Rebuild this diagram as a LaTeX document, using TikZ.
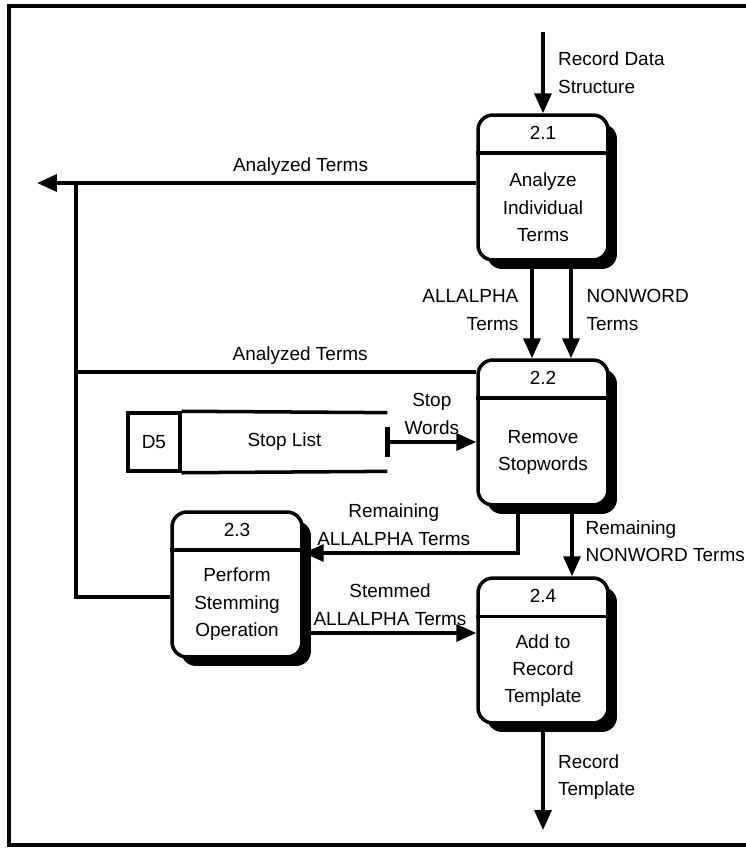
\documentclass[tikz,border=0pt]{standalone}
\usepackage{fontspec}
\setmainfont{Liberation Sans}
\usetikzlibrary{arrows.meta,shadows,positioning}

% process box: name, position, number, text
\newcommand{\procbox}[4]{%
  \node[proc] (#1) at (#2) {};
  \draw[line width=2pt] ([yshift=-0.8cm]#1.north west) -- ([yshift=-0.8cm]#1.north east);
  \node[txt] (#1-id) at ([yshift=-0.4cm]#1.north) {#3};
  \node[txt] (#1-tx) at ([yshift=-0.4cm]#1.center) {#4};
}

\begin{document}
\begin{tikzpicture}[
    x=0.02cm, y=-0.02cm,
    font=\fontsize{10.8}{15.6}\selectfont,
    proc/.style={draw, line width=2pt, rounded corners=0.3cm, fill=white,
                 minimum width=2.6cm, minimum height=2.9cm,
                 drop shadow={shadow xshift=0.18cm, shadow yshift=-0.18cm,
                              fill=black, opacity=1}},
    txt/.style={align=center, inner sep=0pt},
    lbl/.style={align=left},
    flow/.style={line width=2pt},
    arr/.style={-{Triangle[length=0.4cm,width=0.34cm]}, line width=2pt},
    storebox/.style={minimum width=4.1cm, minimum height=1.16cm, inner sep=0pt},
    idbox/.style={draw, line width=2pt, minimum width=1.04cm,
                  minimum height=1.16cm, inner sep=0pt}
]
\useasboundingbox (0,0) rectangle (746,848);

% frame
\draw[line width=2pt] (746,6) -- (9,6) -- (9,845) -- (746,845);

% processes
\procbox{p21}{543,187.5}{2.1}{Analyze\\Individual\\Terms}
\procbox{p22}{543,432.5}{2.2}{Remove\\Stopwords}
\procbox{p23}{237,584.5}{2.3}{Perform\\Stemming\\Operation}
\procbox{p24}{543,650.5}{2.4}{Add to\\Record\\Template}

% data store
\node[storebox] (sl) at (284.5,442) {Stop List};
\node[idbox, left=0pt of sl] (d5) {D5};
\draw[flow] (d5.north east) -- (sl.north east) (d5.south east) -- (sl.south east);
\draw[line width=3pt] ([yshift=0.3cm]sl.east) -- ([yshift=-0.3cm]sl.east);

% free ends
\coordinate (rin) at (543,32);
\coordinate (rout) at (543,830);
\coordinate (anl) at (37,183);
\coordinate (tr-top) at (76,183);
\coordinate (tr-mid) at (76,372);
\coordinate (tr-bot) at (76,597);
\coordinate (stm) at ([yshift=-0.97cm]p23.east);

% flows
\draw[arr] (rin) -- node[lbl, right=0.15cm] {Record Data\\Structure} (p21.north);
\draw[arr] (p21.west |- anl) -- node[lbl, above, pos=0.4] {Analyzed Terms} (anl);
\draw[flow] (tr-top) -- (tr-bot) -- (p23.west |- tr-bot);
\draw[flow] (p22.west |- tr-mid) -- node[lbl, above, pos=0.44] {Analyzed Terms} (tr-mid);
\draw[arr] ([xshift=-0.22cm]p21.south) -- node[lbl, left=0.12cm, align=right] {ALLALPHA\\Terms} ([xshift=-0.22cm]p22.north);
\draw[arr] ([xshift=0.56cm]p21.south) -- node[lbl, right=0.16cm] {NONWORD\\Terms} ([xshift=0.56cm]p22.north);
\draw[arr] (sl.east) -- node[lbl, above, align=center] {Stop\\Words} (p22.west |- sl.east);
\draw[arr] ([xshift=-0.5cm]p22.south) |- node[lbl, above, align=center, pos=0.79] {Remaining\\ALLALPHA Terms} ([yshift=0.63cm]p23.east);
\draw[arr] (stm) -- node[lbl, above, align=center] {Stemmed\\ALLALPHA Terms} (p24.west |- stm);
\draw[arr] ([xshift=0.58cm]p22.south) -- node[lbl, right=0.12cm] {Remaining\\NONWORD Terms} ([xshift=0.58cm]p24.north);
\draw[arr] (p24.south) -- node[lbl, right=0.15cm] {Record\\Template} (rout);
\end{tikzpicture}
\end{document}
